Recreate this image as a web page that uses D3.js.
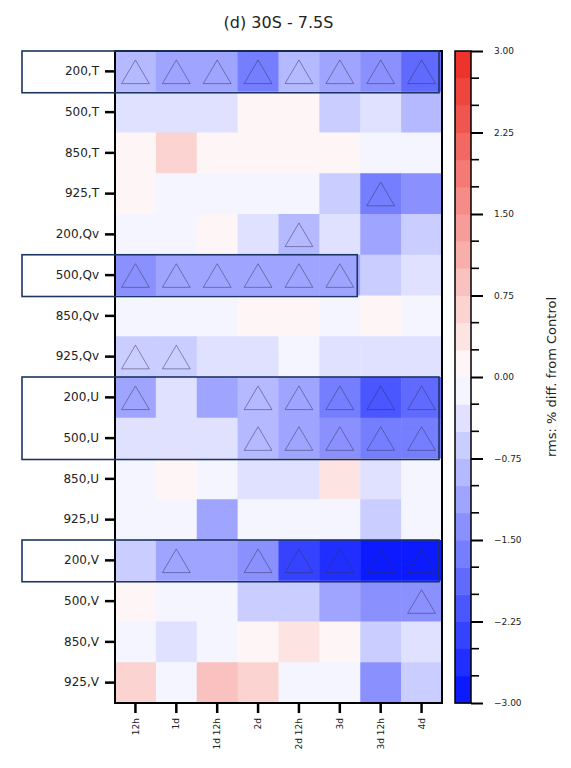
<!DOCTYPE html>
<html>
<head>
<meta charset="utf-8">
<script src="https://cdn.jsdelivr.net/npm/d3@7"></script>
<style>
  body { margin: 0; background: #fff; }
  text { font-family: "DejaVu Sans", sans-serif; fill: #222; }
</style>
</head>
<body>
<svg id="chart" width="571" height="768"></svg>
<script>
// rows (level, variable) and forecast lead times
let rowLabels = ['200,T', '500,T', '850,T', '925,T', '200,Qv', '500,Qv', '850,Qv', '925,Qv',
  '200,U', '500,U', '850,U', '925,U', '200,V', '500,V', '850,V', '925,V']
let colLabels = ['12h', '1d', '1d 12h', '2d', '2d 12h', '3d', '3d 12h', '4d']

// rms % difference from control, one array per row
let values = [
  [-1.0, -1.25, -1.1, -1.6, -0.9, -1.2, -1.5, -1.8],
  [-0.4, -0.4, -0.4, 0.1, 0.1, -0.7, -0.35, -1.0],
  [0.1, 0.6, 0.1, 0.1, 0.1, 0.1, -0.1, -0.1],
  [0.1, -0.1, -0.1, -0.1, -0.1, -0.7, -1.6, -1.35],
  [-0.1, -0.1, 0.1, -0.4, -0.8, -0.4, -1.1, -0.6],
  [-1.35, -1.05, -1.05, -1.05, -1.05, -1.05, -0.65, -0.4],
  [-0.1, -0.1, -0.1, 0.1, 0.1, -0.1, 0.1, -0.1],
  [-0.65, -0.65, -0.4, -0.4, -0.1, -0.4, -0.4, -0.4],
  [-1.05, -0.4, -1.05, -0.95, -1.2, -1.7, -2.2, -1.95],
  [-0.4, -0.4, -0.4, -1.0, -1.25, -1.4, -1.7, -1.65],
  [-0.1, 0.1, -0.1, -0.4, -0.4, 0.35, -0.4, -0.1],
  [-0.1, -0.1, -1.05, -0.1, -0.1, -0.1, -0.7, -0.1],
  [-0.7, -1.05, -1.05, -1.35, -2.3, -2.6, -2.9, -2.8],
  [0.1, -0.1, -0.1, -0.7, -0.65, -1.2, -1.3, -1.45],
  [-0.1, -0.4, -0.1, 0.1, 0.35, 0.1, -0.75, -0.4],
  [0.6, -0.1, 0.85, 0.6, -0.1, -0.1, -1.3, -0.7]
]

// 1 = statistically significant (triangle marker)
let significant = [
  [1, 1, 1, 1, 1, 1, 1, 1],
  [0, 0, 0, 0, 0, 0, 0, 0],
  [0, 0, 0, 0, 0, 0, 0, 0],
  [0, 0, 0, 0, 0, 0, 1, 0],
  [0, 0, 0, 0, 1, 0, 0, 0],
  [1, 1, 1, 1, 1, 1, 0, 0],
  [0, 0, 0, 0, 0, 0, 0, 0],
  [1, 1, 0, 0, 0, 0, 0, 0],
  [1, 0, 0, 1, 1, 1, 1, 1],
  [0, 0, 0, 1, 1, 1, 1, 1],
  [0, 0, 0, 0, 0, 0, 0, 0],
  [0, 0, 0, 0, 0, 0, 0, 0],
  [0, 1, 0, 1, 1, 1, 1, 1],
  [0, 0, 0, 0, 0, 0, 0, 1],
  [0, 0, 0, 0, 0, 0, 0, 0],
  [0, 0, 0, 0, 0, 0, 0, 0]
]

// highlighted row groups: first row, last row, last column
let boxFirstRow = ['200,T', '500,Qv', '200,U', '200,V']
let boxLastRow = ['200,T', '500,Qv', '500,U', '200,V']
let boxLastCol = ['4d', '3d', '4d', '4d']

let cbarMajor = [-3, -2.25, -1.5, -0.75, 0, 0.75, 1.5, 2.25, 3]

let svg = d3.select('#chart')
let plotLeft = 115, plotTop = 51, plotRight = 442, plotBottom = 703

let x = d3.scaleBand().domain(colLabels).range([plotLeft, plotRight])
let y = d3.scaleBand().domain(rowLabels).range([plotTop, plotBottom])

// discrete bwr colormap, 24 levels from -3 to 3
let bounds = d3.range(-3, 3.001, 0.25)
let bwr = d3.piecewise(d3.interpolateRgb, ['#0010ff', '#ffffff', '#ec2a22'])
let binColors = d3.range(bounds.length - 1).map(function (i) {
  let mid = (bounds[i] + bounds[i + 1]) / 2
  return bwr((mid + 3) / 6)
})
let color = d3.scaleThreshold().domain(bounds.slice(1, -1)).range(binColors)

svg.append('text')
  .attr('x', (plotLeft + plotRight) / 2).attr('y', 28)
  .attr('text-anchor', 'middle')
  .style('font-size', '16px')
  .text('(d) 30S - 7.5S')

let cells = []
values.forEach(function (row, i) {
  row.forEach(function (v, j) {
    cells.push({ row: rowLabels[i], col: colLabels[j], value: v, sig: significant[i][j] })
  })
})

svg.append('g').selectAll('rect')
  .data(cells)
  .enter().append('rect')
  .attr('x', function (d) { return x(d.col) })
  .attr('y', function (d) { return y(d.row) })
  .attr('width', x.bandwidth() + 0.5)
  .attr('height', y.bandwidth() + 0.5)
  .attr('fill', function (d) { return color(d.value) })

let tw = x.bandwidth() * 0.34
svg.append('g').selectAll('path')
  .data(cells.filter(function (d) { return d.sig }))
  .enter().append('path')
  .attr('d', function (d) {
    let cx = x(d.col) + x.bandwidth() / 2
    let y0 = y(d.row) + y.bandwidth() * 0.22
    let y1 = y(d.row) + y.bandwidth() * 0.8
    return 'M' + cx + ',' + y0 + 'L' + (cx + tw) + ',' + y1 + 'L' + (cx - tw) + ',' + y1 + 'Z'
  })
  .attr('fill', 'none')
  .attr('stroke', 'rgba(50,50,90,0.55)')
  .attr('stroke-width', 0.9)

svg.append('rect')
  .attr('x', plotLeft).attr('y', plotTop)
  .attr('width', plotRight - plotLeft).attr('height', plotBottom - plotTop)
  .attr('fill', 'none').attr('stroke', '#000').attr('stroke-width', 2)

let yAxis = svg.append('g')
  .attr('transform', 'translate(' + (plotLeft - 1) + ',0)')
  .call(d3.axisLeft(y).tickSize(9).tickPadding(6))
yAxis.select('.domain').remove()
yAxis.selectAll('line').attr('stroke-width', 2.5)
yAxis.selectAll('text').style('font-size', '12px').style('font-family', '"DejaVu Sans", sans-serif')

let xAxis = svg.append('g')
  .attr('transform', 'translate(0,' + (plotBottom + 1) + ')')
  .call(d3.axisBottom(x).tickSize(9).tickPadding(5))
xAxis.select('.domain').remove()
xAxis.selectAll('line').attr('stroke-width', 2.5)
xAxis.selectAll('text')
  .style('font-size', '9px').style('font-family', '"DejaVu Sans", sans-serif')
  .attr('text-anchor', 'end')
  .attr('x', 0).attr('y', 0)
  .attr('transform', 'translate(0,14) rotate(-90)')
  .attr('dx', 0).attr('dy', '0.35em')

svg.append('g').selectAll('rect')
  .data(boxFirstRow)
  .enter().append('rect')
  .attr('x', 22)
  .attr('y', function (d) { return y(d) })
  .attr('width', function (d, i) { return x(boxLastCol[i]) + x.bandwidth() - 22 - 3 })
  .attr('height', function (d, i) { return y(boxLastRow[i]) + y.bandwidth() - y(d) + 1 })
  .attr('fill', 'none')
  .attr('stroke', '#1c3562')
  .attr('stroke-width', 1.6)

// colorbar
let cbX = 455, cbW = 16
let cy = d3.scaleLinear().domain([-3, 3]).range([plotBottom, plotTop])
svg.append('g').selectAll('rect')
  .data(binColors)
  .enter().append('rect')
  .attr('x', cbX)
  .attr('y', function (d, i) { return cy(bounds[i + 1]) })
  .attr('width', cbW)
  .attr('height', function (d, i) { return cy(bounds[i]) - cy(bounds[i + 1]) + 0.5 })
  .attr('fill', function (d) { return d })
svg.append('rect')
  .attr('x', cbX).attr('y', plotTop).attr('width', cbW).attr('height', plotBottom - plotTop)
  .attr('fill', 'none').attr('stroke', '#000').attr('stroke-width', 1.5)

let cbAxis = svg.append('g')
  .attr('transform', 'translate(' + (cbX + cbW) + ',0)')
  .call(d3.axisRight(cy).tickValues(cbarMajor).tickSize(12).tickPadding(11)
    .tickFormat(function (d) { return d3.format('.2f')(d).replace('-', '\u2212') }))
cbAxis.select('.domain').remove()
cbAxis.selectAll('line').attr('stroke-width', 2)
cbAxis.selectAll('text').style('font-size', '9px').style('font-family', '"DejaVu Sans", sans-serif')

// minor ticks on every level boundary between the major ticks
let minor = bounds.filter(function (b) { return Math.abs(b / 0.75 - Math.round(b / 0.75)) > 1e-6 })
svg.append('g').selectAll('line')
  .data(minor)
  .enter().append('line')
  .attr('x1', cbX + cbW).attr('x2', cbX + cbW + 8)
  .attr('y1', function (d) { return cy(d) }).attr('y2', function (d) { return cy(d) })
  .attr('stroke', '#000').attr('stroke-width', 1.6)

svg.append('text')
  .attr('transform', 'translate(556,' + ((plotTop + plotBottom) / 2) + ') rotate(-90)')
  .attr('text-anchor', 'middle')
  .style('font-size', '13px')
  .text('rms: % diff. from Control')
</script>
</body>
</html>
